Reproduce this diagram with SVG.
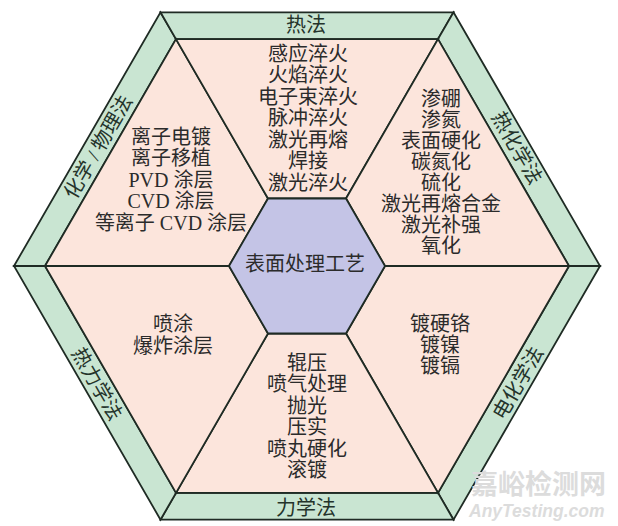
<svg xmlns="http://www.w3.org/2000/svg" width="618" height="526" viewBox="0 0 618 526">
<style>
.band{fill:#c9e5d2;stroke:#1f2b24;stroke-width:1.8;stroke-linejoin:miter}
.sec{fill:#fce5dc;stroke:#1f2b24;stroke-width:1.8}
.core{fill:#c4c4e6;stroke:#1f2b24;stroke-width:1.8}
text{font-family:'Liberation Serif','Noto Sans CJK SC',serif;font-size:20px;fill:#2b2b2b;text-anchor:middle}
.lbl{font-size:20px;fill:#24332a}
.wm1{font-family:'Noto Sans CJK SC',sans-serif;font-size:27px;fill:#dcdcdc;text-anchor:start;font-weight:bold}
.wm2{font-family:'Liberation Sans',sans-serif;font-size:17.5px;fill:#dcdcdc;text-anchor:start;font-style:italic;font-weight:bold}
</style>
<rect width="618" height="526" fill="#ffffff"/>
<g id="bands">
<g id="band-chemphys"><polygon class="band" points="14,266 160.5,12.3 176,39.1 45,266"/><text class="lbl" transform="translate(98,147) rotate(-60)" y="7">化学 / 物理法</text></g>
<g id="band-thermal"><polygon class="band" points="160.5,12.3 453.5,12.3 438,39.1 176,39.1"/><text class="lbl" x="306" y="32">热法</text></g>
<g id="band-thermochem"><polygon class="band" points="453.5,12.3 600,266 569,266 438,39.1"/><text class="lbl" transform="translate(517,148) rotate(60)" y="7">热化学法</text></g>
<g id="band-electrochem"><polygon class="band" points="600,266 453.5,519.7 438,492.9 569,266"/><text class="lbl" transform="translate(518,383) rotate(-60)" y="7">电化学法</text></g>
<g id="band-mech"><polygon class="band" points="453.5,519.7 160.5,519.7 176,492.9 438,492.9"/><text class="lbl" x="306" y="515">力学法</text></g>
<g id="band-thermomech"><polygon class="band" points="160.5,519.7 14,266 45,266 176,492.9"/><text class="lbl" transform="translate(97,384) rotate(60)" y="7">热力学法</text></g>
</g>
<g id="sections">
<g id="sec-chemphys"><polygon class="sec" points="45,266 176,39.1 268,198.5 229,266"/>
<text x="171" y="143.5">离子电镀</text><text x="171" y="165">离子移植</text><text x="171" y="186.5">PVD 涂层</text><text x="171" y="208">CVD 涂层</text><text x="171" y="229.5">等离子 CVD 涂层</text></g>
<g id="sec-thermal"><polygon class="sec" points="176,39.1 438,39.1 346,198.5 268,198.5"/>
<text x="308" y="60.5">感应淬火</text><text x="308" y="82">火焰淬火</text><text x="308" y="103.5">电子束淬火</text><text x="308" y="125">脉冲淬火</text><text x="308" y="146.5">激光再熔</text><text x="308" y="168">焊接</text><text x="308" y="189.5">激光淬火</text></g>
<g id="sec-thermochem"><polygon class="sec" points="438,39.1 569,266 385,266 346,198.5"/>
<text x="441" y="106">渗硼</text><text x="441" y="127">渗氮</text><text x="441" y="148">表面硬化</text><text x="441" y="169">碳氮化</text><text x="441" y="190">硫化</text><text x="441" y="211">激光再熔合金</text><text x="441" y="232">激光补强</text><text x="441" y="253">氧化</text></g>
<g id="sec-electrochem"><polygon class="sec" points="569,266 438,492.9 346,333.5 385,266"/>
<text x="440" y="331">镀硬铬</text><text x="440" y="352">镀镍</text><text x="440" y="373">镀镉</text></g>
<g id="sec-mech"><polygon class="sec" points="438,492.9 176,492.9 268,333.5 346,333.5"/>
<text x="307" y="369.5">辊压</text><text x="307" y="391">喷气处理</text><text x="307" y="412.5">抛光</text><text x="307" y="434">压实</text><text x="307" y="455.5">喷丸硬化</text><text x="307" y="477">滚镀</text></g>
<g id="sec-thermomech"><polygon class="sec" points="176,492.9 45,266 229,266 268,333.5"/>
<text x="173" y="331">喷涂</text><text x="173" y="353">爆炸涂层</text></g>
</g>
<g id="core"><polygon class="core" points="229,266 268,198.5 346,198.5 385,266 346,333.5 268,333.5"/><text x="305" y="271">表面处理工艺</text></g>
<g id="connectors"></g>
<g id="watermark"><text class="wm1" x="471" y="494">嘉峪检测网</text><text class="wm2" x="469" y="517">AnyTesting.com</text></g>
</svg>
